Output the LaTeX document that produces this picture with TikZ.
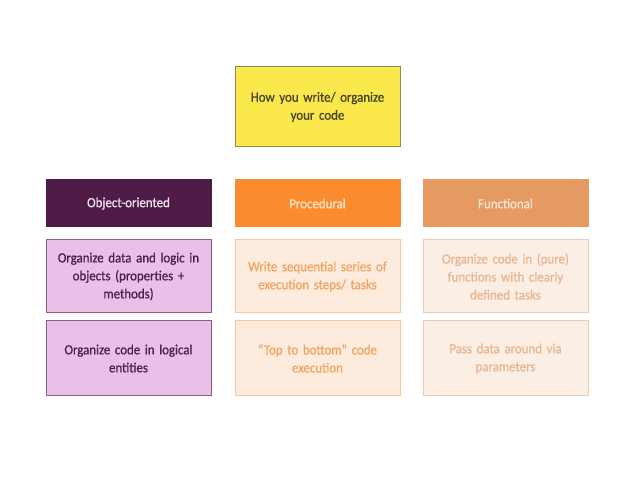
\documentclass[tikz,border=0pt]{standalone}
\usepackage{fontspec}
\setmainfont{Carlito}[FakeStretch=0.92,FakeBold=0.8]
\definecolor{ybg}{HTML}{FAE84C}
\definecolor{ybd}{HTML}{8E8A55}
\definecolor{ytx}{HTML}{4A4520}
\definecolor{oohd}{HTML}{4F1C47}
\definecolor{oohdtx}{HTML}{F2E4EE}
\definecolor{oobg}{HTML}{EAC0E9}
\definecolor{oobd}{HTML}{8C5E88}
\definecolor{ootx}{HTML}{4C2046}
\definecolor{prhd}{HTML}{FB8B2F}
\definecolor{prhdtx}{HTML}{FDE3CC}
\definecolor{prbg}{HTML}{FDEBDD}
\definecolor{prbd}{HTML}{F4C8A2}
\definecolor{prtx}{HTML}{F1A560}
\definecolor{fnhd}{HTML}{E49A60}
\definecolor{fnhdtx}{HTML}{FBE4D2}
\definecolor{fnbg}{HTML}{FBEEE5}
\definecolor{fnbd}{HTML}{EDCBB2}
\definecolor{fntx}{HTML}{E9B690}
\tikzset{
  box/.style={draw, line width=1pt, minimum width=165pt, text width=155pt, align=center, inner sep=0pt, font=\fontsize{14}{18}\selectfont},
  hdbox/.style={box, minimum height=47pt},
  cellbox/.style={box, minimum height=73pt},
  cell3box/.style={box, minimum height=75pt},
}
\begin{document}
\begin{tikzpicture}[x=1pt,y=-1pt]
\useasboundingbox[fill=white] (0,0) rectangle (638,478);
\node[box, fill=ybg, draw=ybd, text=ytx, minimum height=80pt] (top) at (317.5,107) {How you write/ organize\\your code};

\node[hdbox, fill=oohd, draw=oohd, text=oohdtx] (ooh) at (128.5,203.5) {Object-oriented};
\node[hdbox, fill=prhd, draw=prhd, text=prhdtx] (prh) at (317.5,203.5) {Procedural};
\node[hdbox, fill=fnhd, draw=fnhd, text=fnhdtx] (fnh) at (505.5,203.5) {Functional};

\node[cellbox, fill=oobg, draw=oobd, text=ootx] (oo1) at (128.5,276.5) {Organize data and logic in\\objects (properties +\\methods)};
\node[cellbox, fill=prbg, draw=prbd, text=prtx] (pr1) at (317.5,276.5) {Write sequential series of\\execution steps/ tasks};
\node[cellbox, fill=fnbg, draw=fnbd, text=fntx] (fn1) at (505.5,276.5) {Organize code in (pure)\\functions with clearly\\defined tasks};

\node[cell3box, fill=oobg, draw=oobd, text=ootx] (oo2) at (128.5,358.5) {Organize code in logical\\entities};
\node[cell3box, fill=prbg, draw=prbd, text=prtx] (pr2) at (317.5,358.5) {``Top to bottom'' code\\execution};
\node[cell3box, fill=fnbg, draw=fnbd, text=fntx] (fn2) at (505.5,358.5) {Pass data around via\\parameters};
\end{tikzpicture}
\end{document}
